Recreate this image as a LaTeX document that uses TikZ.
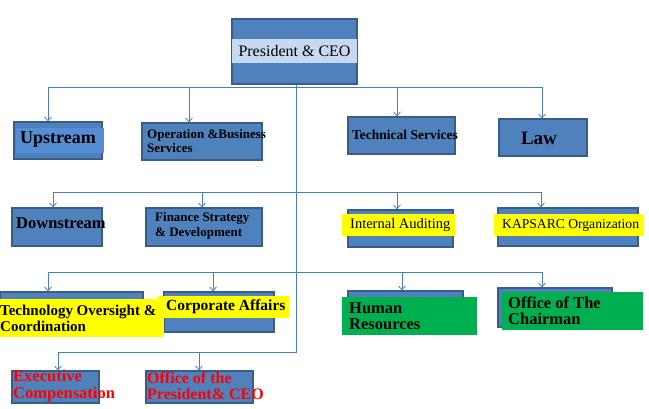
\documentclass[tikz,border=0pt]{standalone}
\usepackage{fontspec}
\setmainfont{Liberation Serif}
\usetikzlibrary{arrows.meta}
\definecolor{boxblue}{HTML}{4F81BD}
\definecolor{boxedge}{HTML}{385D8A}
\definecolor{lineblue}{HTML}{4A7EBB}
\definecolor{bandblue}{HTML}{C6D9F1}
\definecolor{upblue}{HTML}{558ED5}
\definecolor{hlyellow}{HTML}{FFFF00}
\definecolor{hlgreen}{HTML}{00B050}
\definecolor{redtxt}{HTML}{FF0000}
\newcommand\myfs[2]{\fontsize{#1}{#2}\selectfont}
\begin{document}
\begin{tikzpicture}[x=1pt,y=-1pt,
  box/.style={draw=boxedge, line width=1.1pt, fill=boxblue, inner sep=0pt},
  band/.style={inner sep=0pt, draw=none},
  lbl/.style={inner sep=0pt, anchor=west, align=left, text=black},
  bus/.style={draw=lineblue, line width=0.8pt},
  arr/.style={draw=lineblue, line width=0.8pt, -{Straight Barb[length=4pt,width=7pt]}}]
\useasboundingbox (0,0) rectangle (649,409);

% boxes
\node[box, minimum width=125pt, minimum height=65pt] (ceo) at (294.5,51.5) {};
\node[box, minimum width=88pt, minimum height=37pt] (up) at (58,140.5) {};
\node[box, minimum width=120pt, minimum height=37pt] (ops) at (202,141.5) {};
\node[box, minimum width=107pt, minimum height=37pt] (tech) at (401.5,135.5) {};
\node[box, minimum width=88pt, minimum height=37pt] (law) at (543,137.5) {};
\node[box, minimum width=90pt, minimum height=38pt] (down) at (57,227) {};
\node[box, minimum width=116pt, minimum height=38pt] (fin) at (204,227) {};
\node[box, minimum width=105pt, minimum height=37pt] (ia) at (400.5,228.5) {};
\node[box, minimum width=140pt, minimum height=38pt] (kap) at (568,227) {};
\node[box, minimum width=143pt, minimum height=38pt] (techov) at (71.5,311) {};
\node[box, minimum width=110pt, minimum height=40pt] (corp) at (219,312) {};
\node[box, minimum width=115pt, minimum height=38pt] (hr) at (405.5,310) {};
\node[box, minimum width=114pt, minimum height=39pt] (chair) at (555,307.5) {};
\node[box, minimum width=87pt, minimum height=32pt] (exec) at (55.5,387) {};
\node[box, minimum width=107pt, minimum height=32pt] (opres) at (199.5,387) {};

% bands
\node[band, fill=bandblue, minimum width=125pt, minimum height=24pt] (ceoband) at (294.5,51) {};
\node[band, fill=upblue, minimum width=88pt, minimum height=25pt] (upband) at (60,140.5) {};
\node[band, fill=hlyellow, minimum width=113pt, minimum height=22pt] (iaband) at (398.5,225) {};
\node[band, fill=hlyellow, minimum width=150pt, minimum height=22pt] (kapband) at (569,225) {};
\node[band, fill=hlyellow, minimum width=164pt, minimum height=38pt] (techovband) at (82,318) {};
\node[band, fill=hlyellow, minimum width=131pt, minimum height=22pt] (corpband) at (223.5,307) {};
\node[band, fill=hlgreen, minimum width=135pt, minimum height=38pt] (hrband) at (409.5,316) {};
\node[band, fill=hlgreen, minimum width=141pt, minimum height=38pt] (chairband) at (572.5,311) {};

% labels
\node[inner sep=0pt, font=\myfs{16}{18}] (ceot) at (294.5,51) {President \& CEO};
\node[lbl, font=\myfs{18}{20}\bfseries] (upt) at (20,140) {Upstream};
\node[lbl, font=\myfs{13}{14}\bfseries] (opst) at (147,141.5) {Operation \&Business\\Services};
\node[lbl, font=\myfs{13.5}{15}\bfseries] (techt) at (352,135) {Technical Services};
\node[inner sep=0pt, font=\myfs{19}{20}\bfseries] (lawt) at (539,138) {Law};
\node[lbl, font=\myfs{16.5}{18}\bfseries] (downt) at (16,223) {Downstream};
\node[lbl, font=\myfs{13}{14.5}\bfseries] (fint) at (155,226) {Finance Strategy\\\& Development};
\node[lbl, font=\myfs{14.5}{16}] (iat) at (350,225) {Internal Auditing};
\node[lbl, font=\myfs{13.6}{16}] (kapt) at (502,225) {KAPSARC Organization};
\node[lbl, font=\myfs{15}{16}\bfseries] (techovt) at (0,318) {Technology Oversight \&\\Coordination};
\node[lbl, font=\myfs{15.5}{17}\bfseries] (corpt) at (166,307) {Corporate Affairs};
\node[lbl, font=\myfs{16.5}{16.5}\bfseries] (hrt) at (349,316) {Human\\Resources};
\node[lbl, font=\myfs{16.5}{16.5}\bfseries] (chairt) at (508,311) {Office of The\\Chairman};
\node[lbl, text=redtxt, font=\myfs{16.5}{16.5}\bfseries] (exect) at (13,386) {Executive\\Compensation};
\node[lbl, text=redtxt, font=\myfs{16}{16.5}\bfseries] (oprest) at (147,386) {Office of the\\President\& CEO};

% bus coordinates
\coordinate (b1l) at (48,87);
\coordinate (b1a) at (189,87);
\coordinate (b1b) at (397,87);
\coordinate (b1r) at (542,87);
\coordinate (b2l) at (53,192);
\coordinate (b2a) at (202,192);
\coordinate (b2b) at (397,192);
\coordinate (b2r) at (541,192);
\coordinate (b3l) at (48,272);
\coordinate (b3a) at (213,272);
\coordinate (b3b) at (402,272);
\coordinate (b3r) at (542,272);
\coordinate (t1) at (296,352);
\coordinate (b4l) at (58,352);
\coordinate (b4a) at (199,352);

% connectors
\draw[bus] (ceo.south -| t1) -- (t1) -- (b4l);
\draw[bus] (b1l) -- (b1r);
\draw[bus] (b2l) -- (b2r);
\draw[bus] (b3l) -- (b3r);
\draw[arr] (b1l) -- (b1l |- up.north);
\draw[arr] (b1a) -- (b1a |- ops.north);
\draw[arr] (b1b) -- (b1b |- tech.north);
\draw[arr] (b1r) -- (b1r |- law.north);
\draw[arr] (b2l) -- (b2l |- down.north);
\draw[arr] (b2a) -- (b2a |- fin.north);
\draw[arr] (b2b) -- (b2b |- ia.north);
\draw[arr] (b2r) -- (b2r |- kap.north);
\draw[arr] (b3l) -- (b3l |- techov.north);
\draw[arr] (b3a) -- (b3a |- corp.north);
\draw[arr] (b3b) -- (b3b |- hr.north);
\draw[arr] (b3r) -- (b3r |- chair.north);
\draw[arr] (b4l) -- (b4l |- exec.north);
\draw[arr] (b4a) -- (b4a |- opres.north);
\end{tikzpicture}
\end{document}
